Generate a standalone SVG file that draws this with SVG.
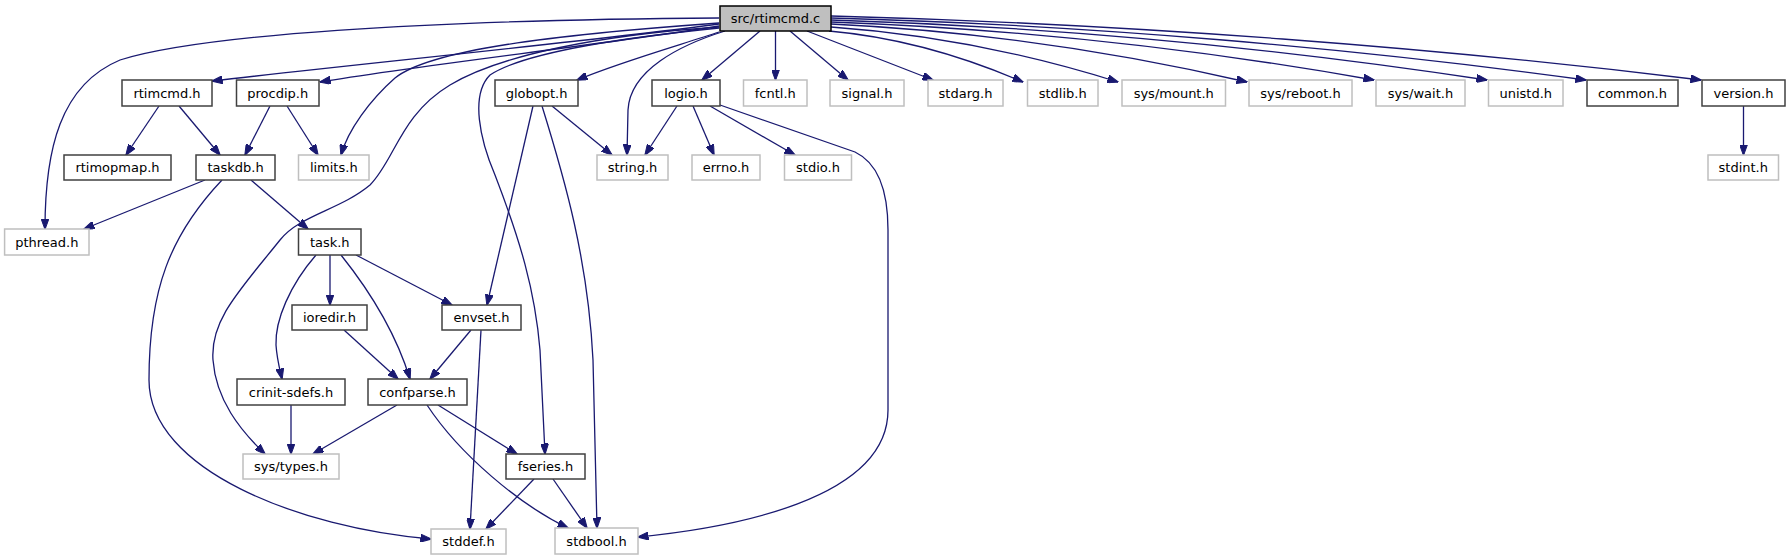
<svg xmlns="http://www.w3.org/2000/svg" width="1790" height="560" viewBox="0 0 1790 560">
<style>
.n rect{fill:#fff;stroke:#404040;stroke-width:1.5}
.g rect{fill:#fff;stroke:#bfbfbf;stroke-width:1.5}
.r rect{fill:#bfbfbf;stroke:#000;stroke-width:1.5}
text{font-family:"DejaVu Sans",sans-serif;font-size:13px;text-anchor:middle;fill:#000}
#edges path{fill:none;stroke:#191970;stroke-width:1.3;marker-end:url(#a)}
</style>
<defs>
<marker id="a" viewBox="0 0 11 8" refX="10.5" refY="4" markerWidth="11" markerHeight="8" orient="auto" markerUnits="userSpaceOnUse">
<path d="M0,0 L11,4 L0,8 z" fill="#191970" stroke="#191970" stroke-width="1"/>
</marker>
</defs>
<rect width="1790" height="560" fill="#fff"/>
<g id="edges">
<path d="M719,24 C600,40 350,65 212,81"/>
<path d="M719,26 C600,45 420,65 320,82"/>
<path d="M719,23 C550,35 430,50 395,78 C370,100 348,130 341,155"/>
<path d="M719,18 C420,20 200,35 120,60 C60,85 45,150 45,229"/>
<path d="M719,27 C600,35 500,55 450,85 C400,115 395,160 370,185 C340,210 300,215 280,240 C240,290 210,320 213,360 C216,400 240,430 265,454"/>
<path d="M719,28 C600,40 520,55 490,75 C470,95 480,140 495,175 C520,240 535,290 540,350 L545,454"/>
<path d="M719,32 C680,45 620,62 577,80"/>
<path d="M725,31 C680,45 630,70 628,110 L627,155"/>
<path d="M760,31 L702,80"/>
<path d="M775.5,31 L775.5,80"/>
<path d="M790,31 L848,80"/>
<path d="M807,31 L933,80"/>
<path d="M829,31 C897,37 965,57 1023,82"/>
<path d="M831,27 C931,34 1032,55 1118,82"/>
<path d="M831,24 C977,31 1122,53 1247,82"/>
<path d="M831,22 C1021,29 1211,51 1374,80"/>
<path d="M831,20 C1061,27 1290,50 1487,80"/>
<path d="M831,18 C1095,25 1360,49 1586,80"/>
<path d="M831,16 C1136,24 1440,48 1701,80"/>
<path d="M159,106 L126,155"/>
<path d="M179,106 L220,155"/>
<path d="M270,106 L245,155"/>
<path d="M287,106 L318,155"/>
<path d="M205,180 L84,229"/>
<path d="M251,180 L308,229"/>
<path d="M222,180 C170,235 149,290 149,380 C149,470 300,528 431,539"/>
<path d="M330,255 L330,305"/>
<path d="M356,255 L452,305"/>
<path d="M341,255 C365,285 395,330 410,379"/>
<path d="M316,255 C290,285 275,320 276,345 C277,360 280,370 282,379"/>
<path d="M344,330 L398,379"/>
<path d="M471,330 L430,379"/>
<path d="M481,330 L470,529"/>
<path d="M552,106 L612,155"/>
<path d="M533,106 L487,305"/>
<path d="M542,106 C565,180 588,260 593,360 L597,528"/>
<path d="M677,106 L645,155"/>
<path d="M693,106 L714,155"/>
<path d="M710,106 L795,155"/>
<path d="M720,105 L855,152 C878,163 888,190 888,230 L888,410 C888,500 730,528 638,537"/>
<path d="M1743.5,106 L1743.5,155"/>
<path d="M291,405 L291,454"/>
<path d="M397,405 L313,454"/>
<path d="M438,405 L517,454"/>
<path d="M427,405 C460,455 520,505 568,528"/>
<path d="M534,479 L486,529"/>
<path d="M553,479 L587,528"/>
</g>
<g id="src_rtimcmd_c" class="r"><rect x="720" y="6" width="111" height="25"/><text x="775.5" y="23">src/rtimcmd.c</text></g>
<g id="rtimcmd_h" class="n"><rect x="122" y="80" width="90" height="26"/><text x="167" y="97.5">rtimcmd.h</text></g>
<g id="procdip_h" class="n"><rect x="236.5" y="80" width="82.5" height="26"/><text x="277.75" y="97.5">procdip.h</text></g>
<g id="globopt_h" class="n"><rect x="495" y="80" width="83" height="26"/><text x="536.5" y="97.5">globopt.h</text></g>
<g id="logio_h" class="n"><rect x="652" y="80" width="68" height="26"/><text x="686" y="97.5">logio.h</text></g>
<g id="fcntl_h" class="g"><rect x="743.5" y="80" width="63.5" height="26"/><text x="775.25" y="97.5">fcntl.h</text></g>
<g id="signal_h" class="g"><rect x="830" y="80" width="74" height="26"/><text x="867" y="97.5">signal.h</text></g>
<g id="stdarg_h" class="g"><rect x="928" y="80" width="75" height="26"/><text x="965.5" y="97.5">stdarg.h</text></g>
<g id="stdlib_h" class="g"><rect x="1027.5" y="80" width="70.5" height="26"/><text x="1062.75" y="97.5">stdlib.h</text></g>
<g id="sys_mount_h" class="g"><rect x="1122" y="80" width="103.5" height="26"/><text x="1173.75" y="97.5">sys/mount.h</text></g>
<g id="sys_reboot_h" class="g"><rect x="1249" y="80" width="103" height="26"/><text x="1300.5" y="97.5">sys/reboot.h</text></g>
<g id="sys_wait_h" class="g"><rect x="1376" y="80" width="89" height="26"/><text x="1420.5" y="97.5">sys/wait.h</text></g>
<g id="unistd_h" class="g"><rect x="1488.5" y="80" width="74.5" height="26"/><text x="1525.75" y="97.5">unistd.h</text></g>
<g id="common_h" class="n"><rect x="1587" y="80" width="91" height="26"/><text x="1632.5" y="97.5">common.h</text></g>
<g id="version_h" class="n"><rect x="1702" y="80" width="83" height="26"/><text x="1743.5" y="97.5">version.h</text></g>
<g id="rtimopmap_h" class="n"><rect x="64" y="155" width="107" height="25"/><text x="117.5" y="172">rtimopmap.h</text></g>
<g id="taskdb_h" class="n"><rect x="196" y="155" width="79" height="25"/><text x="235.5" y="172">taskdb.h</text></g>
<g id="limits_h" class="g"><rect x="298.5" y="155" width="70.5" height="25"/><text x="333.75" y="172">limits.h</text></g>
<g id="string_h" class="g"><rect x="597" y="155" width="71" height="25"/><text x="632.5" y="172">string.h</text></g>
<g id="errno_h" class="g"><rect x="692" y="155" width="68" height="25"/><text x="726" y="172">errno.h</text></g>
<g id="stdio_h" class="g"><rect x="784.5" y="155" width="67" height="25"/><text x="818" y="172">stdio.h</text></g>
<g id="stdint_h" class="g"><rect x="1708" y="155" width="70.5" height="25"/><text x="1743.25" y="172">stdint.h</text></g>
<g id="pthread_h" class="g"><rect x="4.6" y="229" width="84.4" height="26"/><text x="46.8" y="246.5">pthread.h</text></g>
<g id="task_h" class="n"><rect x="298.5" y="229" width="62.5" height="26"/><text x="329.75" y="246.5">task.h</text></g>
<g id="ioredir_h" class="n"><rect x="292" y="305" width="75" height="25"/><text x="329.5" y="322">ioredir.h</text></g>
<g id="envset_h" class="n"><rect x="442" y="305" width="79" height="25"/><text x="481.5" y="322">envset.h</text></g>
<g id="crinit_sdefs_h" class="n"><rect x="237" y="379" width="108" height="26"/><text x="291" y="396.5">crinit-sdefs.h</text></g>
<g id="confparse_h" class="n"><rect x="368" y="379" width="99" height="26"/><text x="417.5" y="396.5">confparse.h</text></g>
<g id="sys_types_h" class="g"><rect x="243" y="454" width="96" height="25"/><text x="291" y="471">sys/types.h</text></g>
<g id="fseries_h" class="n"><rect x="506" y="454" width="79" height="25"/><text x="545.5" y="471">fseries.h</text></g>
<g id="stddef_h" class="g"><rect x="431" y="529" width="75" height="25"/><text x="468.5" y="546">stddef.h</text></g>
<g id="stdbool_h" class="g"><rect x="555" y="528" width="83" height="26"/><text x="596.5" y="545.5">stdbool.h</text></g>
</svg>
